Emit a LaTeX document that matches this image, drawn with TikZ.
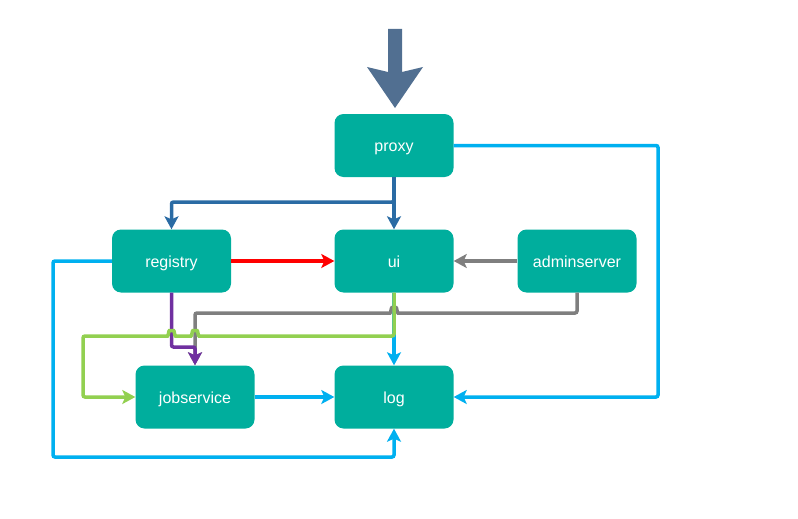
\documentclass[tikz,border=0pt]{standalone}
\usepackage{fontspec}
\setmainfont{Liberation Sans}
\usetikzlibrary{arrows.meta}
\definecolor{boxteal}{HTML}{00AE9D}
\definecolor{bigarrow}{HTML}{516F91}
\definecolor{dblue}{HTML}{2A6BA4}
\definecolor{lblue}{HTML}{00B0F0}
\definecolor{lgreen}{HTML}{92D050}
\definecolor{cgray}{HTML}{7F7F7F}
\definecolor{cred}{HTML}{FF0000}
\definecolor{cpurple}{HTML}{7030A0}
\begin{document}
\begin{tikzpicture}[x=1pt,y=-1pt,
  box/.style={draw=none,fill=boxteal,rounded corners=9pt,minimum width=119pt,minimum height=63pt,
    text=white,font=\fontsize{16}{19}\selectfont,inner sep=0pt,text height=12pt,text depth=0pt},
  conn/.style={line width=3.5pt,rounded corners=2pt,-{Stealth[length=13pt,width=14pt,inset=3pt]}}]
\useasboundingbox (0,0) rectangle (798,519);
% big incoming arrow
\fill[bigarrow] (388,29) -- (402,29) -- (402,72) -- (423,67) -- (395,108) -- (367,67) -- (388,72) -- cycle;
% nodes
\node[box] (proxy) at (394,145.5) {proxy};
\node[box] (registry) at (171.5,261) {registry};
\node[box] (ui) at (394,261) {ui};
\node[box] (adminserver) at (577,261) {adminserver};
\node[box] (jobservice) at (195,397) {jobservice};
\node[box] (log) at (394,397) {log};
% proxy -> ui, registry
\draw[conn,dblue] (proxy) -- (ui);
\draw[conn,dblue] (proxy.south) -- (394,202) -| (registry.north);
% registry -> ui
\draw[conn,cred] (registry) -- (ui);
% adminserver -> ui
\draw[conn,cgray] (adminserver) -- (ui);
% ui -> log
\draw[conn,lblue] (ui) -- (log);
% adminserver -> jobservice (gray), jumping over green
\draw[conn,cgray] (adminserver.south) -- (577,313) -- (400,313)
  .. controls (397,313) and (397,307.5) .. (394,307.5)
  .. controls (391,307.5) and (391,313) .. (388,313)
  -- (195,313) -- (jobservice.north);
% registry -> jobservice (purple)
\draw[conn,cpurple] (registry.south) -- (171.5,347) -- (195,347) -- (jobservice.north);
% ui -> jobservice (green), jumping over gray and purple
\draw[conn,lgreen] (ui.south) -- (394,336) -- (201,336)
  .. controls (198,336) and (198,330.5) .. (195,330.5)
  .. controls (192,330.5) and (192,336) .. (189,336)
  -- (177.5,336)
  .. controls (174.5,336) and (174.5,330.5) .. (171.5,330.5)
  .. controls (168.5,330.5) and (168.5,336) .. (165.5,336)
  -- (83,336) -- (83,397) -- (jobservice.west);
% jobservice -> log
\draw[conn,lblue] (jobservice) -- (log);
% registry -> log
\draw[conn,lblue] (registry.west) -- (53,261) -- (53,457) -- (394,457) -- (log.south);
% proxy -> log
\draw[conn,lblue] (proxy.east) -- (658,145.5) -- (658,397) -- (log.east);
\end{tikzpicture}
\end{document}
